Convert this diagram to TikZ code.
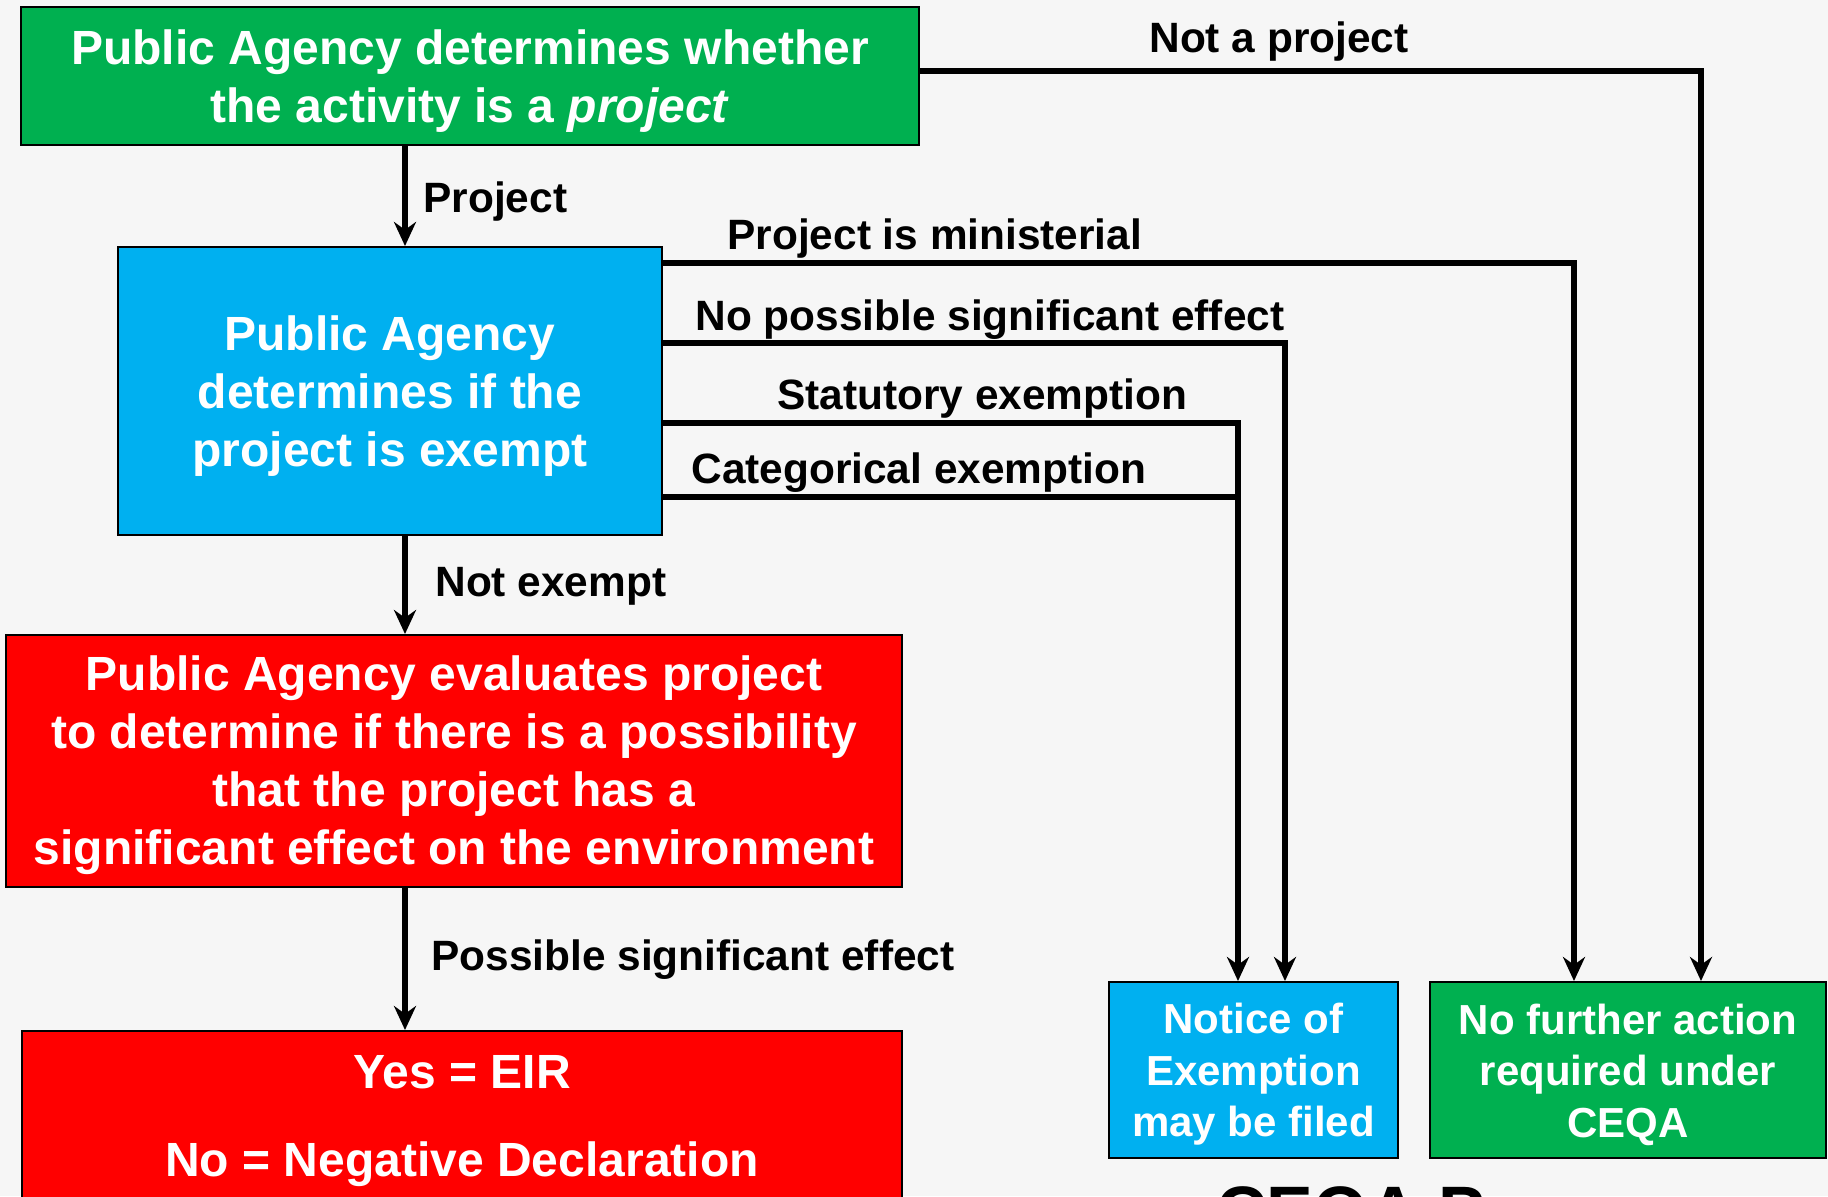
\documentclass[tikz,border=0pt]{standalone}
\usepackage{fontspec}
\setmainfont{Liberation Sans}
\usetikzlibrary{arrows.meta,calc}
\definecolor{pgreen}{HTML}{00B050}
\definecolor{pblue}{HTML}{00B0F0}
\definecolor{pred}{HTML}{FF0000}
\definecolor{bgc}{HTML}{F6F6F6}
\newcommand\bigtop{\rule{0pt}{22pt}}
\newcommand\smalltop{\rule{0pt}{19.7pt}}
\begin{document}
\begin{tikzpicture}[x=0.5pt,y=-0.5pt,
  box/.style={draw=black,line width=1pt,text=white,font=\bfseries\fontsize{24}{29}\selectfont,align=center,inner sep=0pt},
  smallbox/.style={box,font=\bfseries\fontsize{21}{25.75}\selectfont},
  lbl/.style={anchor=base west,font=\bfseries\fontsize{21.2}{25}\selectfont,inner sep=0pt},
  conn/.style={line width=3pt},
  arr/.style={conn,-{Stealth[length=12pt,width=11pt]}}]
\clip (0,0) rectangle (1828,1196);
\fill[bgc] (0,0) rectangle (1828,1196);

\node[box,fill=pgreen,minimum width=449pt,minimum height=69pt] (q1) at (470,76) {\bigtop Public Agency determines whether\\the activity is a \textit{project}};
\node[box,fill=pblue,minimum width=272pt,minimum height=144pt] (q2) at (390,391) {\bigtop Public Agency\\determines if the\\project is exempt};
\node[box,fill=pred,minimum width=448pt,minimum height=126pt] (q3) at (454,761) {\bigtop Public Agency evaluates project\\to determine if there is a possibility\\that the project has a\\significant effect on the environment};
\node[box,fill=pred,minimum width=440pt,minimum height=85pt] (res) at (462,1116) {\bigtop Yes = EIR\\[15pt]No = Negative Declaration};
\node[smallbox,fill=pblue,minimum width=144.5pt,minimum height=88pt] (noe) at (1253.5,1070) {\smalltop Notice of\\Exemption\\may be filed};
\node[smallbox,fill=pgreen,minimum width=198pt,minimum height=88pt] (nfa) at (1628,1070) {\smalltop No further action\\required under\\CEQA};

\coordinate (mx) at (405,0);
\coordinate (xa) at (1701,0);
\coordinate (xb) at (1574,0);
\coordinate (xc) at (1285,0);
\coordinate (xd) at (1238,0);
\coordinate (ya) at (0,71);
\coordinate (yb) at (0,263);
\coordinate (yc) at (0,343);
\coordinate (yd) at (0,423);
\coordinate (ye) at (0,497);

\draw[arr] (q1.south -| mx) -- (q2.north -| mx);
\draw[arr] (q2.south -| mx) -- (q3.north -| mx);
\draw[arr] (q3.south -| mx) -- (res.north -| mx);
\draw[arr] (q1.east |- ya) -| (nfa.north -| xa);
\draw[arr] (q2.east |- yb) -| (nfa.north -| xb);
\draw[arr] (q2.east |- yc) -| (noe.north -| xc);
\draw[arr] (q2.east |- yd) -| (noe.north -| xd);
\draw[conn] (q2.east |- ye) -- (xd |- ye);

\node[lbl] (l1) at (1149,52) {Not a project};
\node[lbl] (l2) at (423,212) {Project};
\node[lbl] (l3) at (727,249) {Project is ministerial};
\node[lbl] (l4) at (695,330) {No possible significant effect};
\node[lbl] (l5) at (777,409) {Statutory exemption};
\node[lbl] (l6) at (691,483) {Categorical exemption};
\node[lbl] (l7) at (435,596) {Not exempt};
\node[lbl] (l8) at (431,970) {Possible significant effect};

\node[anchor=base west,font=\bfseries\fontsize{35}{40}\selectfont,inner sep=0pt] (title) at (1216,1235) {CEQA Process};
\end{tikzpicture}
\end{document}
